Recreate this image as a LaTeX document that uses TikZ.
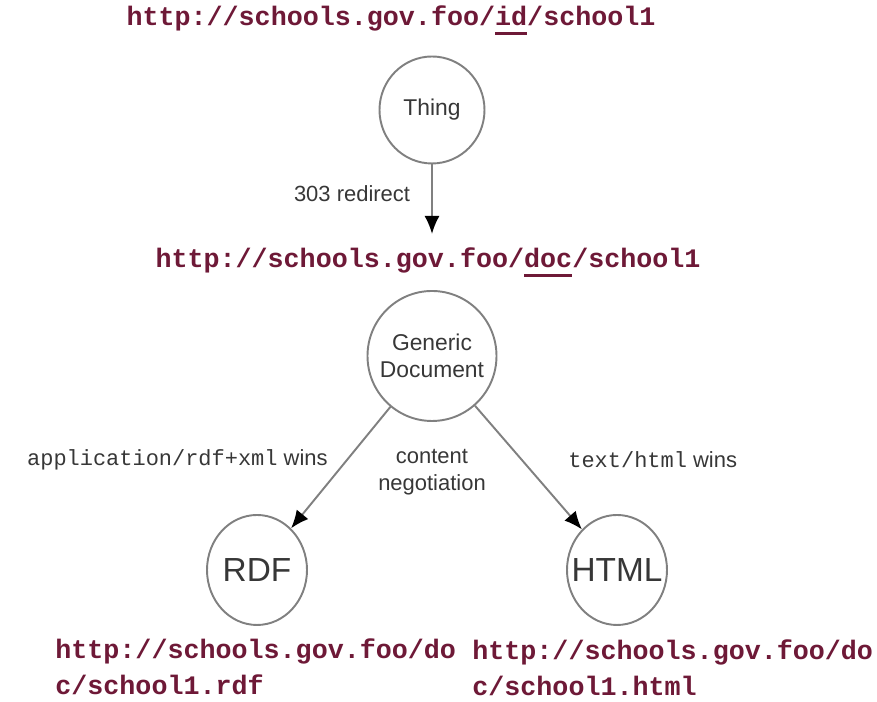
\documentclass[tikz,border=0pt]{standalone}
\usepackage{fontspec}
\setmainfont{Liberation Sans}
\setmonofont{Liberation Mono}
\usetikzlibrary{arrows.meta,shapes.geometric}
\definecolor{urlred}{RGB}{110,25,55}
\definecolor{linegray}{RGB}{128,128,128}
\definecolor{textgray}{RGB}{55,55,55}
\newcommand{\ulpart}[1]{\setbox0\hbox{#1}\rlap{\rule[-5pt]{\wd0}{1.6pt}}\box0}
\tikzset{
    urltext/.style={font=\fontsize{15.2}{20.5}\selectfont\ttfamily\bfseries, text=urlred, inner sep=0pt},
    statenode/.style={ellipse, draw=linegray, line width=1.1pt, text=textgray, inner xsep=-0.5cm, inner ysep=0pt},
    flow/.style={draw=linegray, line width=1.1pt, -{Latex[length=3.6mm, width=3mm, color=black]}},
    note/.style={text=textgray, font=\fontsize{12.5}{15.4}\selectfont, inner sep=0pt},
}

\begin{document}
\begin{tikzpicture}
    \useasboundingbox (0, 0) rectangle (17.54, 14.04);
    % URIs of the thing and of its document
    \node[urltext, anchor=base] (idurl) at (7.82, 13.52) {http://schools.gov.foo/\ulpart{id}/school1};
    \node[urltext, anchor=base] (docurl) at (8.56, 8.68) {http://schools.gov.foo/\ulpart{doc}/school1};
    % Resources
    \node[statenode, minimum width=2.1cm, minimum height=2.14cm, font=\fontsize{13}{16}\selectfont] (thing) at (8.64, 11.84) {Thing};
    \node[statenode, minimum width=2.58cm, minimum height=2.6cm, align=center, font=\fontsize{13}{15.5}\selectfont] (generic) at (8.64, 6.92) {Generic\\Document};
    \node[statenode, minimum width=2.0cm, minimum height=2.2cm, font=\fontsize{19}{22}\selectfont] (rdf) at (5.14, 2.64) {RDF};
    \node[statenode, minimum width=2.0cm, minimum height=2.2cm, font=\fontsize{19}{22}\selectfont] (html) at (12.34, 2.64) {HTML};
    % Redirect and negotiation
    \coordinate (redirect) at (8.64, 9.36);
    \draw[flow] (thing) -- (redirect) node[note, left, midway, xshift=-0.42cm, yshift=0.12cm] {303 redirect};
    \draw[flow] (generic) -- (rdf);
    \draw[flow] (generic) -- (html);
    \node[note, anchor=east] (rdfwins) at (6.56, 4.84) {{\ttfamily application/rdf+xml} wins};
    \node[note, align=center] (negotiation) at (8.64, 4.6) {content\\negotiation};
    \node[note, anchor=west] (htmlwins) at (11.36, 4.84) {{\ttfamily text/html} wins};
    % URIs of the two representations
    \node[urltext, anchor=west, align=left] (rdfurl) at (1.1, 0.7) {http://schools.gov.foo/do\\c/school1.rdf};
    \node[urltext, anchor=west, align=left] (htmlurl) at (9.44, 0.68) {http://schools.gov.foo/do\\c/school1.html};
\end{tikzpicture}
\end{document}
